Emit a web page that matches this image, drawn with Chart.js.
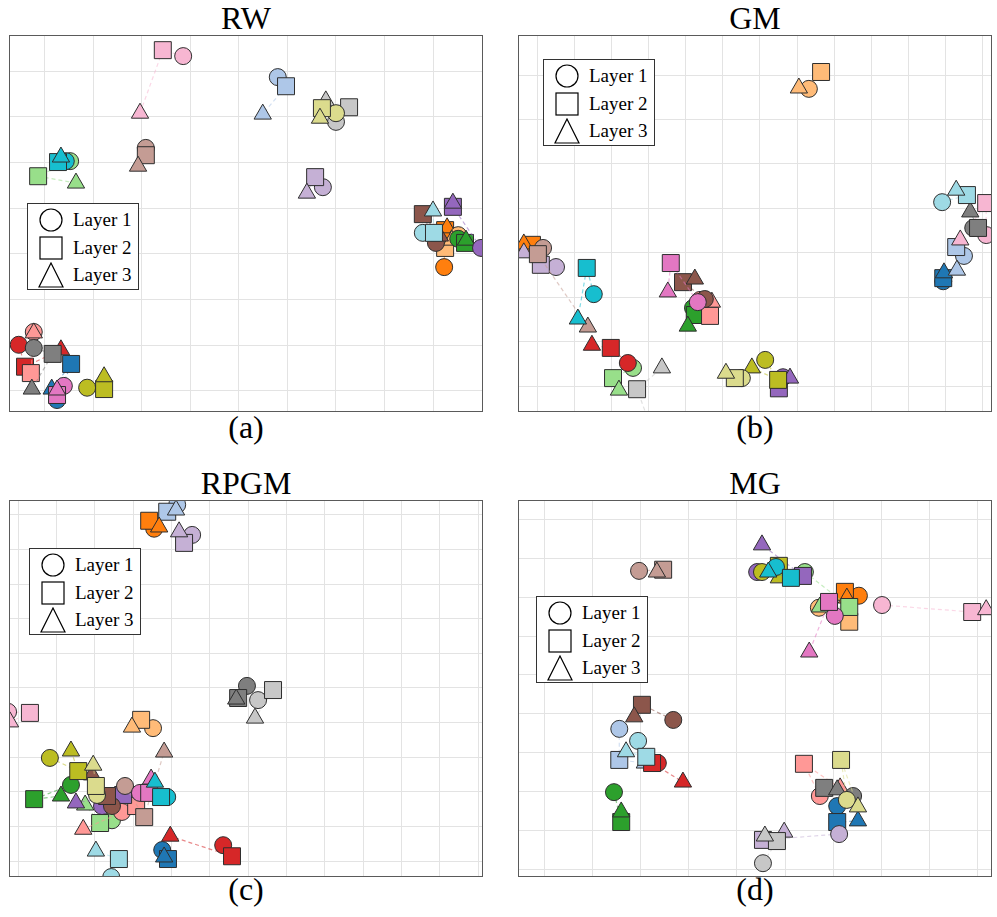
<!DOCTYPE html>
<html lang="en">
<head>
<meta charset="utf-8">
<title>Layer embeddings</title>
<script src="https://cdn.jsdelivr.net/npm/chart.js@4.4.1/dist/chart.umd.min.js"></script>
<style>
  html, body { margin: 0; padding: 0; background: #fff; }
  body { position: relative; width: 997px; height: 917px; overflow: hidden;
         font-family: "Liberation Serif", "Times New Roman", Times, "DejaVu Serif", "Noto Serif", serif; color: #000; }
  .label { position: absolute; width: 472px; text-align: center; font-size: 32px; line-height: 32px; }
  .plot { position: absolute; width: 472px; height: 375px; }
  .plot canvas { position: absolute; left: 0; top: 0; }
  .frame { position: absolute; box-sizing: border-box; width: 474px; height: 377px;
           border: 1.3px solid #5a5a5a; pointer-events: none; }
  .legend { position: absolute; box-sizing: border-box; width: 112px; height: 87px;
            background: #fff; border: 1.3px solid #333; }
  .legend .row { position: absolute; left: 0; width: 100%; height: 26px; }
  .legend svg { position: absolute; left: 10px; top: 0; }
  .legend span { position: absolute; left: 45px; top: 0; font-size: 19px; line-height: 26px; white-space: nowrap; }
</style>
</head>
<body>

<div class="label" style="left:10px; top:2px;">RW</div>
<div class="label" style="left:519px; top:2px;">GM</div>
<div class="label" style="left:10px; top:467px;">RPGM</div>
<div class="label" style="left:519px; top:467px;">MG</div>

<div class="label" style="left:10px; top:411px;">(a)</div>
<div class="label" style="left:519px; top:411px;">(b)</div>
<div class="label" style="left:10px; top:873px;">(c)</div>
<div class="label" style="left:519px; top:873px;">(d)</div>

<div class="plot" style="left:10px; top:36px;"><canvas id="rwChart" width="472" height="375"></canvas></div>
<div class="plot" style="left:519px; top:36px;"><canvas id="gmChart" width="472" height="375"></canvas></div>
<div class="plot" style="left:10px; top:501px;"><canvas id="rpgmChart" width="472" height="375"></canvas></div>
<div class="plot" style="left:519px; top:501px;"><canvas id="mgChart" width="472" height="375"></canvas></div>

<div class="frame" style="left:9px; top:35px;"></div>
<div class="frame" style="left:518px; top:35px;"></div>
<div class="frame" style="left:9px; top:500px;"></div>
<div class="frame" style="left:518px; top:500px;"></div>

<script>
// tab20 palette, one colour per node
const colors = [
    '#1f77b4', '#aec7e8', '#ff7f0e', '#ffbb78', '#2ca02c',
    '#98df8a', '#d62728', '#ff9896', '#9467bd', '#c5b0d5',
    '#8c564b', '#c49c94', '#e377c2', '#f7b6d2', '#7f7f7f',
    '#c7c7c7', '#bcbd22', '#dbdb8d', '#17becf', '#9edae5'
];

const layerNames = ['Layer 1', 'Layer 2', 'Layer 3'];

// (a) RW
const rwCircle = [
    [0.25, -0.20], [4.80, 6.87], [8.23, 2.71], [8.52, 3.41], [8.52, 3.33],
    [0.52, 5.03], [-0.54, 1.01], [-0.23, 1.29], [8.99, 3.13], [5.73, 4.46],
    [8.06, 3.24], [2.08, 5.32], [0.39, 0.11], [2.85, 7.33], [-0.23, 0.94],
    [6.00, 5.89], [0.87, 0.07], [6.00, 6.08], [0.43, 5.03], [7.79, 3.46]
];
const rwSquare = [
    [0.54, 0.59], [4.97, 6.67], [8.25, 3.52], [8.25, 3.13], [8.66, 3.24],
    [-0.14, 4.70], [-0.41, 0.53], [-0.29, 0.39], [8.41, 4.03], [5.57, 4.68],
    [7.79, 3.87], [2.08, 5.16], [0.25, -0.09], [2.43, 7.46], [0.16, 0.81],
    [6.27, 6.21], [1.22, 0.04], [5.71, 6.19], [0.27, 5.01], [8.02, 3.46]
];
const rwTriangle = [
    [0.14, 0.04], [4.49, 6.06], [8.29, 3.57], [8.39, 3.30], [8.68, 3.30],
    [0.64, 4.55], [0.33, 0.90], [-0.23, 1.27], [8.41, 4.11], [5.40, 4.33],
    [8.14, 3.39], [1.92, 4.92], [0.25, 0.02], [1.96, 6.08], [-0.27, 0.04],
    [5.79, 6.35], [1.22, 0.31], [5.67, 5.97], [0.33, 5.12], [8.00, 3.94]
];

// (b) GM
const gmCircle = [
    [10.95, 2.36], [11.51, 2.93], [-0.27, 3.13], [7.32, 6.69], [4.19, 1.76],
    [2.57, 0.41], [2.43, 0.52], [4.38, 1.94], [6.62, 0.20], [0.49, 2.68],
    [4.51, 1.96], [0.14, 3.11], [4.32, 1.89], [12.11, 3.40], [11.76, 3.56],
    [3.08, -0.99], [6.14, 0.59], [5.51, 0.18], [1.51, 2.07], [10.92, 4.14]
];
const gmSquare = [
    [10.95, 2.43], [11.30, 3.13], [-0.16, 3.18], [7.65, 7.07], [4.24, 1.60],
    [2.03, 0.18], [1.97, 0.86], [4.65, 1.58], [6.51, -0.05], [0.08, 2.73],
    [3.92, 2.34], [0.00, 2.97], [3.59, 2.77], [12.11, 4.12], [11.89, 3.56],
    [2.68, -0.07], [6.49, 0.14], [5.32, 0.18], [1.32, 2.66], [11.59, 4.30]
];
const gmTriangle = [
    [10.97, 2.55], [11.32, 2.61], [-0.38, 3.20], [7.05, 6.71], [4.05, 1.35],
    [2.19, -0.09], [1.46, 0.92], [4.70, 1.89], [6.81, 0.18], [-0.38, 3.00],
    [4.24, 2.41], [1.35, 1.33], [3.51, 2.12], [11.41, 3.29], [11.68, 3.92],
    [3.35, 0.41], [5.78, 0.41], [5.08, 0.29], [1.08, 1.51], [11.30, 4.41]
];

// (c) RPGM
const rpgmCircle = [
    [3.76, 0.32], [4.15, 10.29], [3.55, 9.60], [3.52, 3.84], [1.38, 2.20],
    [2.45, 1.18], [5.35, 0.46], [2.71, 1.42], [2.19, 1.59], [4.54, 9.42],
    [2.45, 1.59], [2.79, 2.17], [3.18, 1.97], [-0.26, 4.31], [5.97, 5.06],
    [6.26, 4.65], [0.83, 2.98], [2.06, 1.91], [3.89, 1.85], [2.43, -0.46]
];
const rpgmSquare = [
    [3.91, 0.06], [3.89, 10.09], [3.42, 9.83], [3.21, 4.08], [0.42, 1.79],
    [2.14, 1.10], [5.58, 0.14], [3.08, 1.59], [2.74, 1.91], [4.33, 9.19],
    [2.32, 1.88], [3.29, 1.27], [3.42, 1.97], [0.31, 4.28], [5.74, 4.71],
    [6.65, 4.94], [1.57, 2.60], [2.03, 2.17], [3.73, 1.85], [2.63, 0.06]
];
const rpgmTriangle = [
    [3.81, 0.12], [4.12, 10.14], [3.68, 9.65], [2.97, 3.87], [1.12, 1.88],
    [1.75, 1.62], [3.97, 0.72], [1.70, 0.92], [1.51, 1.68], [4.20, 9.51],
    [1.93, 2.49], [3.81, 3.15], [3.47, 2.37], [-0.21, 4.02], [5.69, 4.68],
    [6.18, 4.13], [1.38, 3.18], [1.96, 2.77], [3.57, 2.28], [2.03, 0.29]
];

// (d) MG
const mgCircle = [
    [6.08, 1.62], [1.56, 3.61], [6.53, 7.04], [5.70, 6.73], [1.45, 1.98],
    [5.41, 7.65], [2.36, 2.73], [5.72, 1.88], [4.42, 7.65], [6.12, 0.90],
    [2.68, 3.84], [1.97, 7.68], [6.03, 6.52], [7.01, 6.80], [6.41, 1.88],
    [4.54, 0.15], [4.52, 7.65], [6.28, 1.78], [4.81, 7.78], [1.95, 3.30]
];
const mgSquare = [
    [6.08, 1.21], [1.56, 2.81], [6.24, 7.14], [6.33, 6.37], [1.60, 1.21],
    [6.33, 6.75], [2.24, 2.73], [5.39, 2.71], [5.37, 7.55], [4.54, 0.75],
    [2.03, 4.23], [2.47, 7.71], [5.91, 6.88], [8.88, 6.62], [5.81, 2.09],
    [4.83, 0.72], [4.87, 7.81], [6.16, 2.81], [5.12, 7.50], [2.12, 2.89]
];
const mgTriangle = [
    [6.51, 1.24], [2.09, 2.73], [6.28, 6.98], [5.83, 6.80], [1.60, 1.47],
    [5.72, 6.75], [2.88, 2.24], [6.14, 2.09], [4.52, 8.35], [4.98, 0.95],
    [1.87, 3.92], [2.34, 7.65], [5.50, 5.59], [9.17, 6.68], [6.08, 2.04],
    [4.58, 0.85], [4.87, 7.50], [6.51, 1.60], [4.65, 7.65], [1.70, 3.02]
];

// axis extents and grid positions
const rwRangeX = [-0.72, 9.01], rwRangeY = [-0.44, 7.77];
const gmRangeX = [-0.51, 12.24], gmRangeY = [-0.56, 7.88];
const rpgmRangeX = [-0.21, 12.10], rpgmRangeY = [-0.43, 10.40];
const mgRangeX = [-0.52, 9.27], mgRangeY = [-0.18, 9.48];
const rwGridX = [0, 1, 2, 3, 4, 5, 6, 7, 8], rwGridY = [0, 1, 2, 3, 4, 5, 6, 7];
const gmGridX = [0, 1, 2, 3, 4, 5, 6, 7, 8, 9, 10, 11, 12], gmGridY = [0, 1, 2, 3, 4, 5, 6, 7];
const rpgmGridX = [0, 1, 2, 3, 4, 5, 6, 7, 8, 9, 10, 11, 12], rpgmGridY = [0, 1, 2, 3, 4, 5, 6, 7, 8, 9, 10];
const mgGridX = [0, 1, 2, 3, 4, 5, 6, 7, 8, 9], mgGridY = [0, 1, 2, 3, 4, 5, 6, 7, 8, 9];

document.addEventListener('DOMContentLoaded', function() {
    setupChart('rwChart', rwCircle, rwSquare, rwTriangle, rwRangeX, rwRangeY, rwGridX, rwGridY);
    setupChart('gmChart', gmCircle, gmSquare, gmTriangle, gmRangeX, gmRangeY, gmGridX, gmGridY);
    setupChart('rpgmChart', rpgmCircle, rpgmSquare, rpgmTriangle, rpgmRangeX, rpgmRangeY, rpgmGridX, rpgmGridY);
    setupChart('mgChart', mgCircle, mgSquare, mgTriangle, mgRangeX, mgRangeY, mgGridX, mgGridY);

    makeLegend(27, 203);
    makeLegend(543, 59);
    makeLegend(29, 548);
    makeLegend(536, 596);
});

function hexToRgba(hex, a) {
    const n = parseInt(hex.slice(1), 16);
    return `rgba(${(n >> 16) & 255}, ${(n >> 8) & 255}, ${n & 255}, ${a})`;
}

// one dataset per node: circle -> square -> triangle joined by a dashed line
function buildDatasets(l1, l2, l3) {
    return colors.map((c, i) => ({
        data: [
            { x: l1[i][0], y: l1[i][1] },
            { x: l2[i][0], y: l2[i][1] },
            { x: l3[i][0], y: l3[i][1] }
        ],
        showLine: true,
        borderColor: hexToRgba(c, 0.55),
        borderWidth: 1.2,
        borderDash: [4, 3],
        pointStyle: ['circle', 'rect', 'triangle'],
        pointRadius: [8.5, 12, 10],
        pointBackgroundColor: c,
        pointBorderColor: '#2e2e2e',
        pointBorderWidth: 1,
        clip: 0,
        order: -i
    }));
}

function makeScale(range, grid) {
    return {
        type: 'linear',
        min: range[0],
        max: range[1],
        ticks: { display: false },
        grid: { color: '#e3e3e3', lineWidth: 1, drawTicks: false },
        border: { display: false },
        afterBuildTicks: axis => { axis.ticks = grid.map(v => ({ value: v })); }
    };
}

function setupChart(id, l1, l2, l3, rangeX, rangeY, gridX, gridY) {
    const ctx = document.getElementById(id).getContext('2d');
    new Chart(ctx, {
        type: 'scatter',
        data: { datasets: buildDatasets(l1, l2, l3) },
        options: {
            responsive: false,
            animation: false,
            events: [],
            layout: { padding: 0, autoPadding: false },
            plugins: {
                legend: { display: false },
                tooltip: { enabled: false }
            },
            scales: {
                x: makeScale(rangeX, gridX),
                y: makeScale(rangeY, gridY)
            }
        }
    });
}

// legend box with hollow markers
function makeLegend(left, top) {
    const shapes = [
        '<circle cx="13" cy="13" r="11" fill="none" stroke="#000" stroke-width="1.2"/>',
        '<rect x="2" y="2" width="22" height="22" fill="none" stroke="#000" stroke-width="1.2"/>',
        '<polygon points="13,1 25,25 1,25" fill="none" stroke="#000" stroke-width="1.2"/>'
    ];
    const rowCenters = [16, 43.5, 71];
    const box = document.createElement('div');
    box.className = 'legend';
    box.style.left = left + 'px';
    box.style.top = top + 'px';
    box.innerHTML = layerNames.map((name, i) => `
        <div class="row" style="top:${rowCenters[i] - 13}px">
            <svg width="26" height="26">${shapes[i]}</svg>
            <span>${name}</span>
        </div>
    `).join('');
    document.body.appendChild(box);
}
</script>
</body>
</html>
